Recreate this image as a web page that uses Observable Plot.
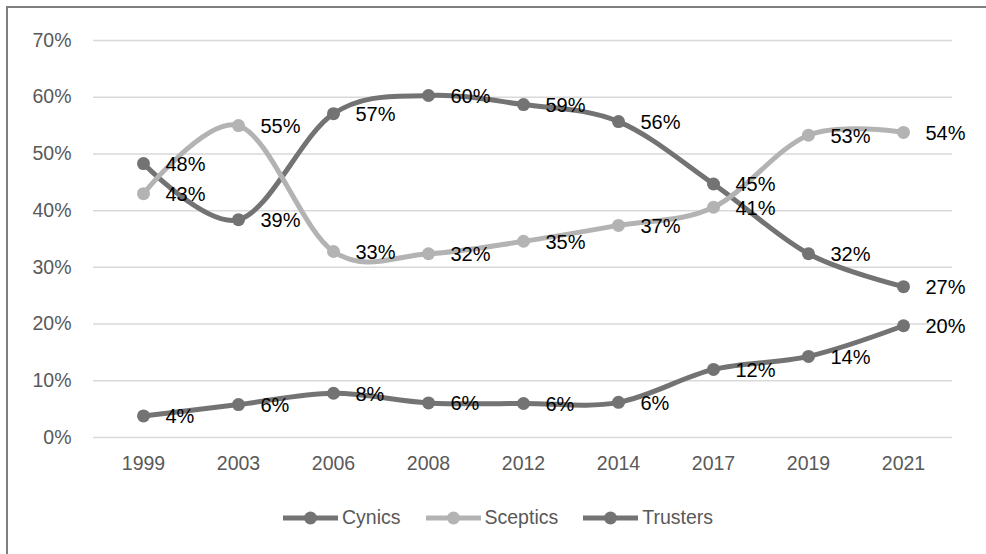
<!DOCTYPE html>
<html><head><meta charset="utf-8">
<script src="https://cdn.jsdelivr.net/npm/d3@7"></script>
<script src="https://cdn.jsdelivr.net/npm/@observablehq/plot@0.6"></script>
<style>
html,body{margin:0;padding:0;background:#fff;overflow:hidden;width:986px;height:554px;}
body{font-family:"Liberation Sans",Arial,sans-serif;}
#frame{position:absolute;left:6px;top:6px;width:990px;height:560px;border-left:2px solid #7f7f7f;border-top:2px solid #7f7f7f;box-sizing:border-box;}
#chart{position:absolute;left:0;top:0;}
#legend{position:absolute;left:283px;top:506px;display:flex;align-items:center;font-size:19.5px;color:#595959;white-space:nowrap;}
#legend .item{display:flex;align-items:center;margin-right:25px;}
#legend svg{margin-right:4px;}
</style></head><body>
<div id="frame"></div>
<div id="chart"></div>
<div id="legend"></div>
<script>
const years = ["1999","2003","2006","2008","2012","2014","2017","2019","2021"];
const seriesNames = ["Cynics","Sceptics","Trusters"];
const seriesColors = ["#737373","#b3b3b3","#737373"];
const cynics   = [48.3, 38.4, 57.1, 60.3, 58.7, 55.7, 44.7, 32.4, 26.6];
const sceptics = [43.0, 55.0, 32.8, 32.4, 34.6, 37.4, 40.6, 53.3, 53.8];
const trusters = [3.8, 5.8, 7.8, 6.1, 6.0, 6.2, 12.0, 14.3, 19.7];
const cynicsLabels   = ["48%","39%","57%","60%","59%","56%","45%","32%","27%"];
const scepticsLabels = ["43%","55%","33%","32%","35%","37%","41%","53%","54%"];
const trustersLabels = ["4%","6%","8%","6%","6%","6%","12%","14%","20%"];
const yTicks = [0,10,20,30,40,50,60,70];

const allValues = [cynics, sceptics, trusters];
const allLabels = [cynicsLabels, scepticsLabels, trustersLabels];
const data = [];
seriesNames.forEach((s, i) => {
  years.forEach((y, j) => data.push({series: s, year: y, value: allValues[i][j], label: allLabels[i][j]}));
});

const marks = [
  Plot.gridY(yTicks, {stroke: "#d9d9d9", strokeOpacity: 1, strokeWidth: 1.5}),
  Plot.axisY(yTicks, {tickSize: 0, tickPadding: 22, tickFormat: d => d + "%", fill: "#595959"}),
  Plot.axisX({tickSize: 0, tickPadding: 19, fill: "#595959"})
];
seriesNames.forEach(s => {
  const d = data.filter(r => r.series === s);
  marks.push(Plot.line(d, {x: "year", y: "value", stroke: "series", strokeWidth: 5, curve: "cardinal", tension: 0}));
  marks.push(Plot.dot(d, {x: "year", y: "value", fill: "series", r: 6.5}));
});
marks.push(Plot.text(data, {x: "year", y: "value", text: "label", dx: 22, dy: 1, textAnchor: "start", fill: "#000", fontSize: 20}));

const chart = Plot.plot({
  width: 986,
  height: 492,
  marginLeft: 93,
  marginRight: 34,
  marginTop: 40,
  marginBottom: 55,
  style: {fontFamily: "'Liberation Sans', Arial, sans-serif", fontSize: "19.5px", background: "transparent", overflow: "visible"},
  x: {type: "point", domain: years, padding: 0.5, label: null},
  y: {domain: [0, 70], label: null},
  color: {domain: seriesNames, range: seriesColors},
  marks
});
document.getElementById("chart").appendChild(chart);

const legend = document.getElementById("legend");
seriesNames.forEach((s, i) => {
  const item = document.createElement("div");
  item.className = "item";
  const c = seriesColors[i];
  item.innerHTML = `<svg width="55" height="16"><line x1="0" y1="8" x2="55" y2="8" stroke="${c}" stroke-width="5"/><circle cx="27.5" cy="8" r="6.5" fill="${c}"/></svg><span>${s}</span>`;
  legend.appendChild(item);
});
</script>
</body></html>
